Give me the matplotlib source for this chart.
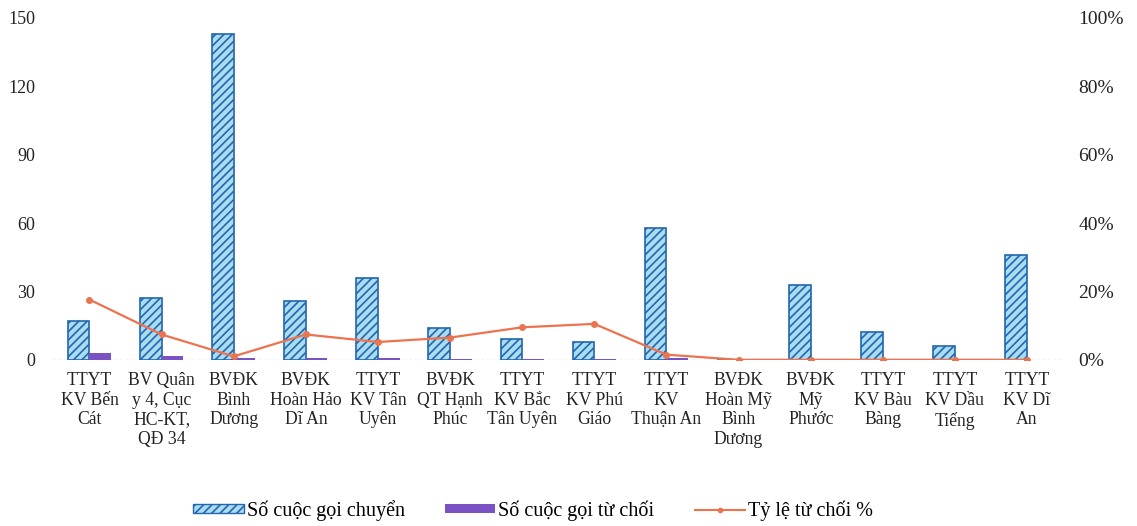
import numpy as np
import matplotlib.pyplot as plt
from matplotlib.lines import Line2D
from matplotlib.patches import Patch

plt.rcParams['font.family'] = ['Liberation Serif', 'DejaVu Serif']
plt.rcParams['hatch.linewidth'] = 1.2

categories = ["TTYT\nKV Bến\nCát", "BV Quân\ny 4, Cục\nHC-KT,\nQĐ 34", "BVĐK\nBình\nDương",
              "BVĐK\nHoàn Hảo\nDĩ An", "TTYT\nKV Tân\nUyên", "BVĐK\nQT Hạnh\nPhúc",
              "TTYT\nKV Bắc\nTân Uyên", "TTYT\nKV Phú\nGiáo", "TTYT\nKV\nThuận An",
              "BVĐK\nHoàn Mỹ\nBình\nDương", "BVĐK\nMỹ\nPhước", "TTYT\nKV Bàu\nBàng",
              "TTYT\nKV Dầu\nTiếng", "TTYT\nKV Dĩ\nAn"]
transferred = [17, 27, 143, 26, 36, 14, 9, 8, 58, 0, 33, 12, 6, 46]
rejected = [3, 1.5, 1, 1, 1, 0.4, 0.4, 0.4, 0.8, 0, 0, 0, 0, 0]
reject_rate = [17.6, 7.4, 1.0, 7.4, 5.2, 6.5, 9.5, 10.5, 1.5, 0, 0, 0, 0, 0]

left_ticks = [0, 30, 60, 90, 120, 150]
right_ticks = [0, 20, 40, 60, 80, 100]

fig = plt.figure(figsize=(11.37, 5.26), dpi=100)
ax = fig.add_axes([0.047, 0.316, 0.888, 0.65])
ax2 = ax.twinx()

x = np.arange(len(categories))
w = 0.3
ax.bar(x - w / 2, transferred, w, facecolor='#aadcf0', edgecolor='#2266b0',
       hatch='////', linewidth=1.2, zorder=2)
ax.bar(x + w / 2, rejected, w, color='#7a52c4', zorder=2)
ax.axhline(0, color='#c8c8d8', lw=1, ls=(0, (2, 2)), zorder=1)

ax2.plot(x, reject_rate, color='#ec7350', lw=1.6, marker='o', markersize=4, zorder=3)

ax.set_xlim(-0.5, len(categories) - 0.5)
ax.set_ylim(0, 150)
ax2.set_ylim(0, 100)
ax.set_yticks(left_ticks)
ax.set_yticklabels([str(t) for t in left_ticks])
ax2.set_yticks(right_ticks)
ax2.set_yticklabels([f"{t}%" for t in right_ticks])
ax.set_xticks(x)
ax.set_xticklabels(categories, linespacing=1.2)

for a in (ax, ax2):
    for s in a.spines.values():
        s.set_visible(False)
    a.tick_params(length=0, colors='#222222')
ax.tick_params(axis='y', pad=13, labelsize=13)
ax2.tick_params(axis='y', pad=11, labelsize=14)
ax.tick_params(axis='x', pad=9, labelsize=12.7)

handles = [Patch(facecolor='#aadcf0', edgecolor='#2266b0', hatch='////'),
           Patch(facecolor='#7a52c4'),
           Line2D([], [], color='#ec7350', lw=1.5, marker='o', markersize=3)]
labels = ["Số cuộc gọi chuyển", "Số cuộc gọi từ chối", "Tỷ lệ từ chối %"]
fig.legend(handles, labels, loc='center', bbox_to_anchor=(0.469, 0.03), ncol=3,
           frameon=False, fontsize=14.5, columnspacing=2.0, handlelength=2.5,
           handleheight=0.35, handletextpad=0.15)

fig.savefig('out.png', dpi=100)
